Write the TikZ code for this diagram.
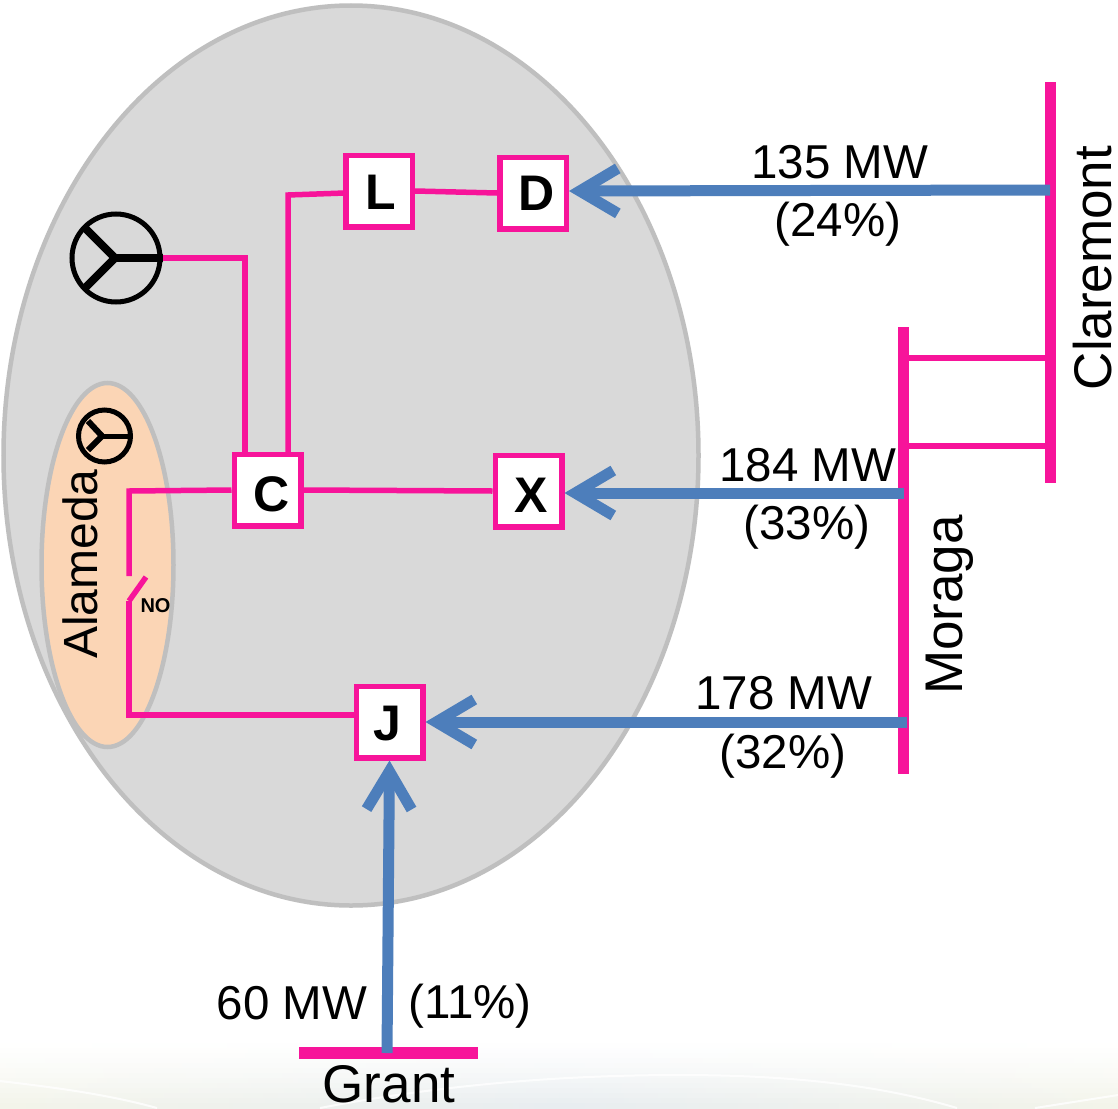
\documentclass[tikz,border=0pt]{standalone}
\usepackage{fontspec}
\setmainfont{Liberation Sans}
\usetikzlibrary{arrows.meta,shapes.geometric}
\definecolor{bus}{HTML}{F7149A}
\definecolor{flow}{HTML}{4D7EBB}
\definecolor{zonefill}{HTML}{D9D9D9}
\definecolor{zoneline}{HTML}{BFBFBF}
\definecolor{peach}{HTML}{FBD5B5}
\definecolor{bgside}{HTML}{F3F4EA}
\definecolor{bgmid}{HTML}{E8EDF0}
\tikzset{
  zone/.style={draw=zoneline,line width=4.5pt},
  stationbox/.style={draw=bus,fill=white,line width=5.5pt,minimum width=66.5pt,minimum height=71.5pt,inner sep=0pt,font=\fontsize{50}{52}\selectfont\bfseries},
  tie/.style={draw=bus,line width=5.5pt,line join=miter},
  flowline/.style={draw=flow,line width=11pt,-{Straight Barb[length=38pt,width=45pt,line width=11pt]}},
  lbl/.style={font=\fontsize{47.5}{50}\selectfont,inner sep=0pt,text=black},
  busname/.style={font=\fontsize{53}{55}\selectfont,inner sep=0pt,text=black},
  gen/.style={draw=black,line cap=butt},
  curve/.style={draw=white,line width=2pt,opacity=.8}
}
\begin{document}
\begin{tikzpicture}[x=1pt,y=-1pt]
\useasboundingbox (0,0) rectangle (1118,1108);
% backdrop
\fill[white] (0,0) rectangle (1118,1108);
\foreach \i in {0,...,13}{
  \pgfmathsetmacro{\tv}{100*(\i/13)^1.3}
  \pgfmathsetmacro{\yv}{1038+\i*5}
  \fill[left color=bgside!\tv!white,right color=bgside!\tv!white,middle color=bgmid!\tv!white] (0,\yv) rectangle (1118,\yv+5.5);
}
\draw[curve] (0,1081) .. controls (60,1088) and (110,1095) .. (157,1108);
\draw[curve] (320,1108) .. controls (440,1085) and (560,1075) .. (680,1075) .. controls (790,1075) and (880,1085) .. (957,1108);
\draw[curve] (1035,1108) -- (1118,1095);
% zones
\node[zone,fill=zonefill,ellipse,minimum width=695pt,minimum height=900pt,inner sep=0pt] (zoneA) at (351,455.5) {};
\node[zone,fill=peach,ellipse,minimum width=132pt,minimum height=364pt,inner sep=0pt] (zoneB) at (107.5,565) {};
% stations
\node[stationbox,text height=36pt] (L) at (379,191) {\kern3pt L};
\node[stationbox,text height=34pt] (D) at (533,193) {\kern8pt D};
\node[stationbox,text height=44pt] (C) at (267.5,490) {\kern8pt C};
\node[stationbox,text height=42pt] (X) at (528.5,491) {\kern6pt X};
\node[stationbox,text height=37pt] (J) at (389.5,722) {\kern-5pt J};
% generators
\node[gen,circle,line width=5pt,minimum size=88pt,inner sep=0pt] (G1) at (116,258) {};
\coordinate (G1h) at (115,258);
\draw[gen,line width=8pt] (85,228) -- (G1h) -- (85,288);
\draw[gen,line width=8pt] (G1h) -- (G1.east);
\node[gen,circle,line width=5pt,minimum size=52pt,inner sep=0pt] (G2) at (104.5,436) {};
\coordinate (G2h) at (102,436);
\draw[gen,line width=6pt] (88,421) -- (G2h) -- (88,450);
\draw[gen,line width=5pt] (G2h) -- (G2.east);
% buses
\node[inner sep=0pt,minimum width=11pt,minimum height=401pt,fill=bus] (Clar) at (1050,282.5) {};
\node[inner sep=0pt,minimum width=11pt,minimum height=447pt,fill=bus] (Mora) at (903.5,550.5) {};
\node[inner sep=0pt,minimum width=179pt,minimum height=12pt,fill=bus] (Gr) at (388.5,1053) {};
% ties
\draw[tie] (G1.east) -- (245,258) -- (245,453);
\draw[tie] (288,453) -- (288,195) -- (345,193);
\draw[tie] (L.east) -- (D.west);
\draw[tie] (C.east) -- (X.west);
\coordinate (swA) at (129,576);
\coordinate (swB) at (129,601);
\coordinate (swT) at (146,577);
\draw[tie] (C.west) -- (129,491) -- (swA);
\draw[tie] (swB) -- (swT);
\draw[tie] (swB) -- (129,715) -- ([yshift=7pt]J.west);
\draw[tie] (903,358) -- (1050,358);
\draw[tie] (903,446) -- (1050,446);
% flows
\coordinate (cl) at (1050,190);
\coordinate (m1) at (904,493);
\coordinate (m2) at (907,722);
\coordinate (g1) at (387,1053);
\draw[flowline] (cl) -- ([yshift=2pt]D.east);
\draw[flowline] (m1) -- ([yshift=-2pt]X.east);
\draw[flowline] (m2) -- (J.east);
\draw[flowline] (g1) -- (J.south);
% labels
\node[lbl] (l1) at (840,162) {135 MW};
\node[lbl] (l2) at (838,224) {(24\%)};
\node[lbl] (l3) at (808,465) {184 MW};
\node[lbl] (l4) at (807,527) {(33\%)};
\node[lbl] (l5) at (784,693) {178 MW};
\node[lbl] (l6) at (783,756) {(32\%)};
\node[lbl] (l7) at (292,1003) {60 MW};
\node[lbl] (l8) at (470,1006) {(11\%)};
\node[busname] (n1) at (389,1084) {Grant};
\node[busname,rotate=90] (n2) at (1093,268) {Claremont};
\node[busname,rotate=90] (n3) at (950,605) {Moraga};
\node[lbl,rotate=90,font=\fontsize{48}{50}\selectfont] (n4) at (80,564) {Alameda};
\node[inner sep=0pt,font=\fontsize{20}{22}\selectfont\bfseries] (no) at (155.5,606) {NO};
\end{tikzpicture}
\end{document}
